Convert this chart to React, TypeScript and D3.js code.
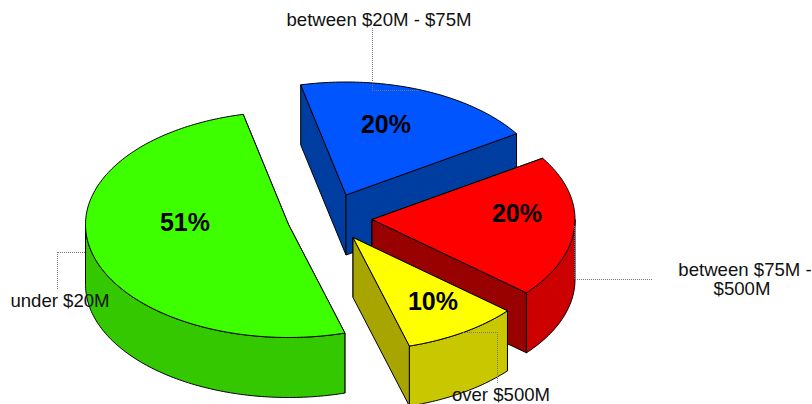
import React from "react";
import * as d3 from "d3";

// ---- data ----
const categories = ["between $20M - $75M", "between $75M - $500M", "over $500M", "under $20M"];
const shares = [19.5, 20.4, 9.3, 51.0];
const percentLabels = ["20%", "20%", "10%", "51%"];

// ---- styles ----
const topColors = ["#0055ff", "#ff0000", "#ffff00", "#3dff00"];
const rimColors = ["#003da0", "#cc0000", "#c9c700", "#33c800"];
const wallColors = ["#003da0", "#990000", "#a8a400", "#33c800"];

// ---- layout ----
const W = 812, H = 404;
const RX = 203, RY = 113, DEPTH = 60;
const START_DEG = -12.9;
const apexes: [number, number][] = [[346, 195], [372, 219.5], [353, 237.5], [288.5, 224.5]];
const pctPos: [number, number][] = [[386, 133], [517, 222], [433, 310], [185, 231]];
const categoryLines = [["between $20M - $75M"], ["between $75M -", "$500M"], ["over $500M"], ["under $20M"]];
const catPos: [number, number][][] = [
  [[379, 26]],
  [[745, 276], [742, 295]],
  [[501, 401]],
  [[60, 307]],
];
const leaders: [number, number][][] = [
  [[372, 28], [372, 90], [420, 90]],
  [[574, 226], [574, 279], [652, 279]],
  [[463, 332], [497, 332], [497, 384]],
  [[87, 252], [57, 252], [57, 290]],
];

const sx = d3.scaleLinear().domain([-1, 1]).range([-RX, RX]);
const sy = d3.scaleLinear().domain([-1, 1]).range([-RY, RY]);
const line = d3.line<[number, number]>();
const pieGen = d3.pie<number>().sort(null).value((d) => d)
  .startAngle((START_DEG * Math.PI) / 180)
  .endAngle((START_DEG * Math.PI) / 180 + 2 * Math.PI);
const arcs = pieGen(shares);

function rimPoint(a: [number, number], ang: number, dz = 0): [number, number] {
  return [a[0] + sx(Math.sin(ang)), a[1] + sy(-Math.cos(ang)) + dz];
}
function arcPoints(a: [number, number], s: number, e: number, dz = 0): [number, number][] {
  const n = Math.max(8, Math.ceil(((e - s) * 180) / Math.PI));
  return d3.range(n + 1).map((i) => rimPoint(a, s + ((e - s) * i) / n, dz));
}

function Slice({ i }: { i: number }) {
  const a = apexes[i];
  const { startAngle: s, endAngle: e } = arcs[i];
  const low: [number, number] = [a[0], a[1] + DEPTH];
  const wall = (ang: number) =>
    line([a, rimPoint(a, ang), rimPoint(a, ang, DEPTH), low])! + "Z";
  const walls = [s, e].sort((p, q) => Math.cos(q) - Math.cos(p));
  // the outer rim faces the viewer only on the front half of the ellipse
  const frontS = Math.max(s, Math.PI / 2);
  const frontE = Math.min(e, (3 * Math.PI) / 2);
  const rim = frontE > frontS
    ? line([...arcPoints(a, frontS, frontE), ...arcPoints(a, frontS, frontE, DEPTH).reverse()])! + "Z"
    : null;
  const top = line([a, ...arcPoints(a, s, e)])! + "Z";
  return (
    <g stroke="#000" strokeWidth={1} strokeLinejoin="round">
      {walls.map((ang, k) => <path key={k} d={wall(ang)} fill={wallColors[i]} />)}
      {rim && <path d={rim} fill={rimColors[i]} />}
      <path d={top} fill={topColors[i]} />
    </g>
  );
}

export default function App() {
  return (
    <svg width={W} height={H} viewBox={`0 0 ${W} ${H}`}
      style={{ position: "absolute", left: 0, top: 0, display: "block", background: "#fff" }}
      fontFamily="'Liberation Sans', Arial, sans-serif">
      {categories.map((c, i) => <Slice key={c} i={i} />)}
      {leaders.map((l, i) => (
        <path key={i} d={line(l)!} fill="none" stroke="#777" strokeWidth={1} strokeDasharray="1 1" shapeRendering="crispEdges" />
      ))}
      {percentLabels.map((t, i) => (
        <text key={i} x={pctPos[i][0]} y={pctPos[i][1]} textAnchor="middle" fontSize={25} fontWeight="bold" fill="#000">{t}</text>
      ))}
      {categoryLines.map((ls, i) => (
        <text key={i} textAnchor="middle" fontSize={18.6} fill="#111">
          {ls.map((t, k) => <tspan key={k} x={catPos[i][k][0]} y={catPos[i][k][1]}>{t}</tspan>)}
        </text>
      ))}
    </svg>
  );
}
